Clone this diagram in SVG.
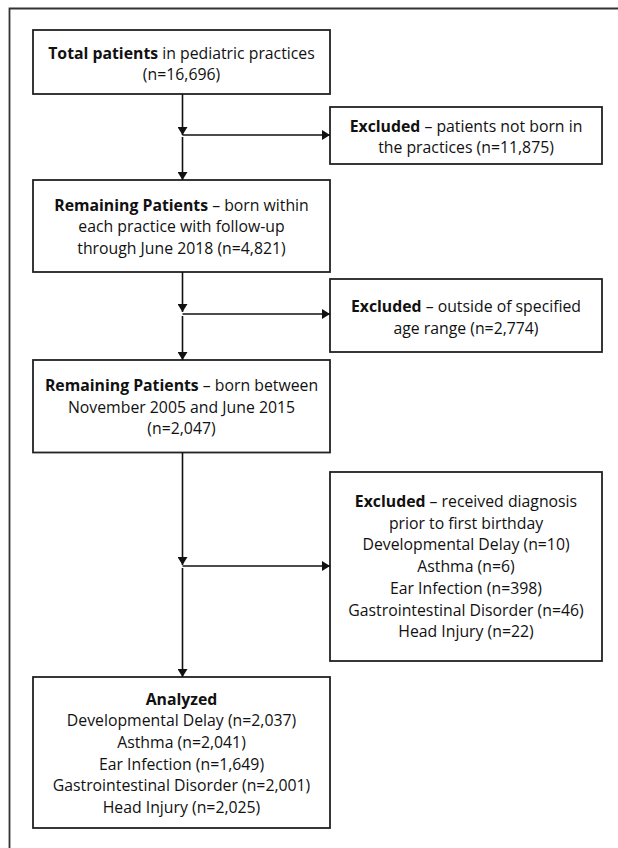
<svg xmlns="http://www.w3.org/2000/svg" width="618" height="848" viewBox="0 0 618 848">
<style>
.box{fill:#fff;stroke:#222;stroke-width:1.8}
.t{font-family:"Open Sans","Liberation Sans",sans-serif;font-size:15.8px;fill:#111;text-anchor:middle}
.b{font-weight:bold}
.c{stroke:#111;stroke-width:1.6;fill:none}
.frame{stroke:#333;stroke-width:1.8;fill:none}
</style>
<defs>
<marker id="ah" markerUnits="userSpaceOnUse" markerWidth="8" markerHeight="10" refX="8" refY="5" viewBox="0 0 8 10" orient="auto">
<path d="M0,0 L8,5 L0,10 z" fill="#111"/>
</marker>
</defs>
<rect width="618" height="848" fill="#fff"/>
<path class="frame" d="M9.5,848 V8.5 H618"/>
<g id="n1">
<rect class="box" x="33" y="30" width="297" height="64"/>
<text class="t" x="181.5" y="58.5"><tspan class="b">Total patients</tspan> in pediatric practices</text>
<text class="t" x="181.5" y="80">(n=16,696)</text>
</g>
<g id="n2">
<rect class="box" x="330" y="107" width="272" height="57"/>
<text class="t" x="466" y="131.5"><tspan class="b">Excluded</tspan> – patients not born in</text>
<text class="t" x="466" y="153">the practices (n=11,875)</text>
</g>
<g id="n3">
<rect class="box" x="33" y="180" width="297" height="92"/>
<text class="t" x="181.5" y="210.5"><tspan class="b">Remaining Patients</tspan> – born within</text>
<text class="t" x="181.5" y="232">each practice with follow-up</text>
<text class="t" x="181.5" y="253.5">through June 2018 (n=4,821)</text>
</g>
<g id="n4">
<rect class="box" x="330" y="279" width="272" height="73"/>
<text class="t" x="466" y="312"><tspan class="b">Excluded</tspan> – outside of specified</text>
<text class="t" x="466" y="333.5">age range (n=2,774)</text>
</g>
<g id="n5">
<rect class="box" x="33" y="360" width="297" height="92.5"/>
<text class="t" x="181.5" y="391"><tspan class="b">Remaining Patients</tspan> – born between</text>
<text class="t" x="181.5" y="412.5">November 2005 and June 2015</text>
<text class="t" x="181.5" y="434">(n=2,047)</text>
</g>
<g id="n6">
<rect class="box" x="330" y="472" width="272" height="189"/>
<text class="t" x="466" y="507"><tspan class="b">Excluded</tspan> – received diagnosis</text>
<text class="t" x="466" y="528.7">prior to first birthday</text>
<text class="t" x="466" y="550.4">Developmental Delay (n=10)</text>
<text class="t" x="466" y="572.1">Asthma (n=6)</text>
<text class="t" x="466" y="593.8">Ear Infection (n=398)</text>
<text class="t" x="466" y="615.5">Gastrointestinal Disorder (n=46)</text>
<text class="t" x="466" y="637.2">Head Injury (n=22)</text>
</g>
<g id="n7">
<rect class="box" x="33" y="677" width="297" height="151"/>
<text class="t b" x="181.5" y="704.5">Analyzed</text>
<text class="t" x="181.5" y="726.2">Developmental Delay (n=2,037)</text>
<text class="t" x="181.5" y="747.9">Asthma (n=2,041)</text>
<text class="t" x="181.5" y="769.6">Ear Infection (n=1,649)</text>
<text class="t" x="181.5" y="791.3">Gastrointestinal Disorder (n=2,001)</text>
<text class="t" x="181.5" y="813">Head Injury (n=2,025)</text>
</g>
<g id="connectors">
<path class="c" d="M182.5,94 V135" marker-end="url(#ah)"/>
<path class="c" d="M182.5,135 H330" marker-end="url(#ah)"/>
<path class="c" d="M182.5,137 V180" marker-end="url(#ah)"/>
<path class="c" d="M182.5,272 V312" marker-end="url(#ah)"/>
<path class="c" d="M182.5,314 H330" marker-end="url(#ah)"/>
<path class="c" d="M182.5,316 V360" marker-end="url(#ah)"/>
<path class="c" d="M182.5,452.5 V565" marker-end="url(#ah)"/>
<path class="c" d="M182.5,566 H330" marker-end="url(#ah)"/>
<path class="c" d="M182.5,568 V677" marker-end="url(#ah)"/>
</g>
</svg>
